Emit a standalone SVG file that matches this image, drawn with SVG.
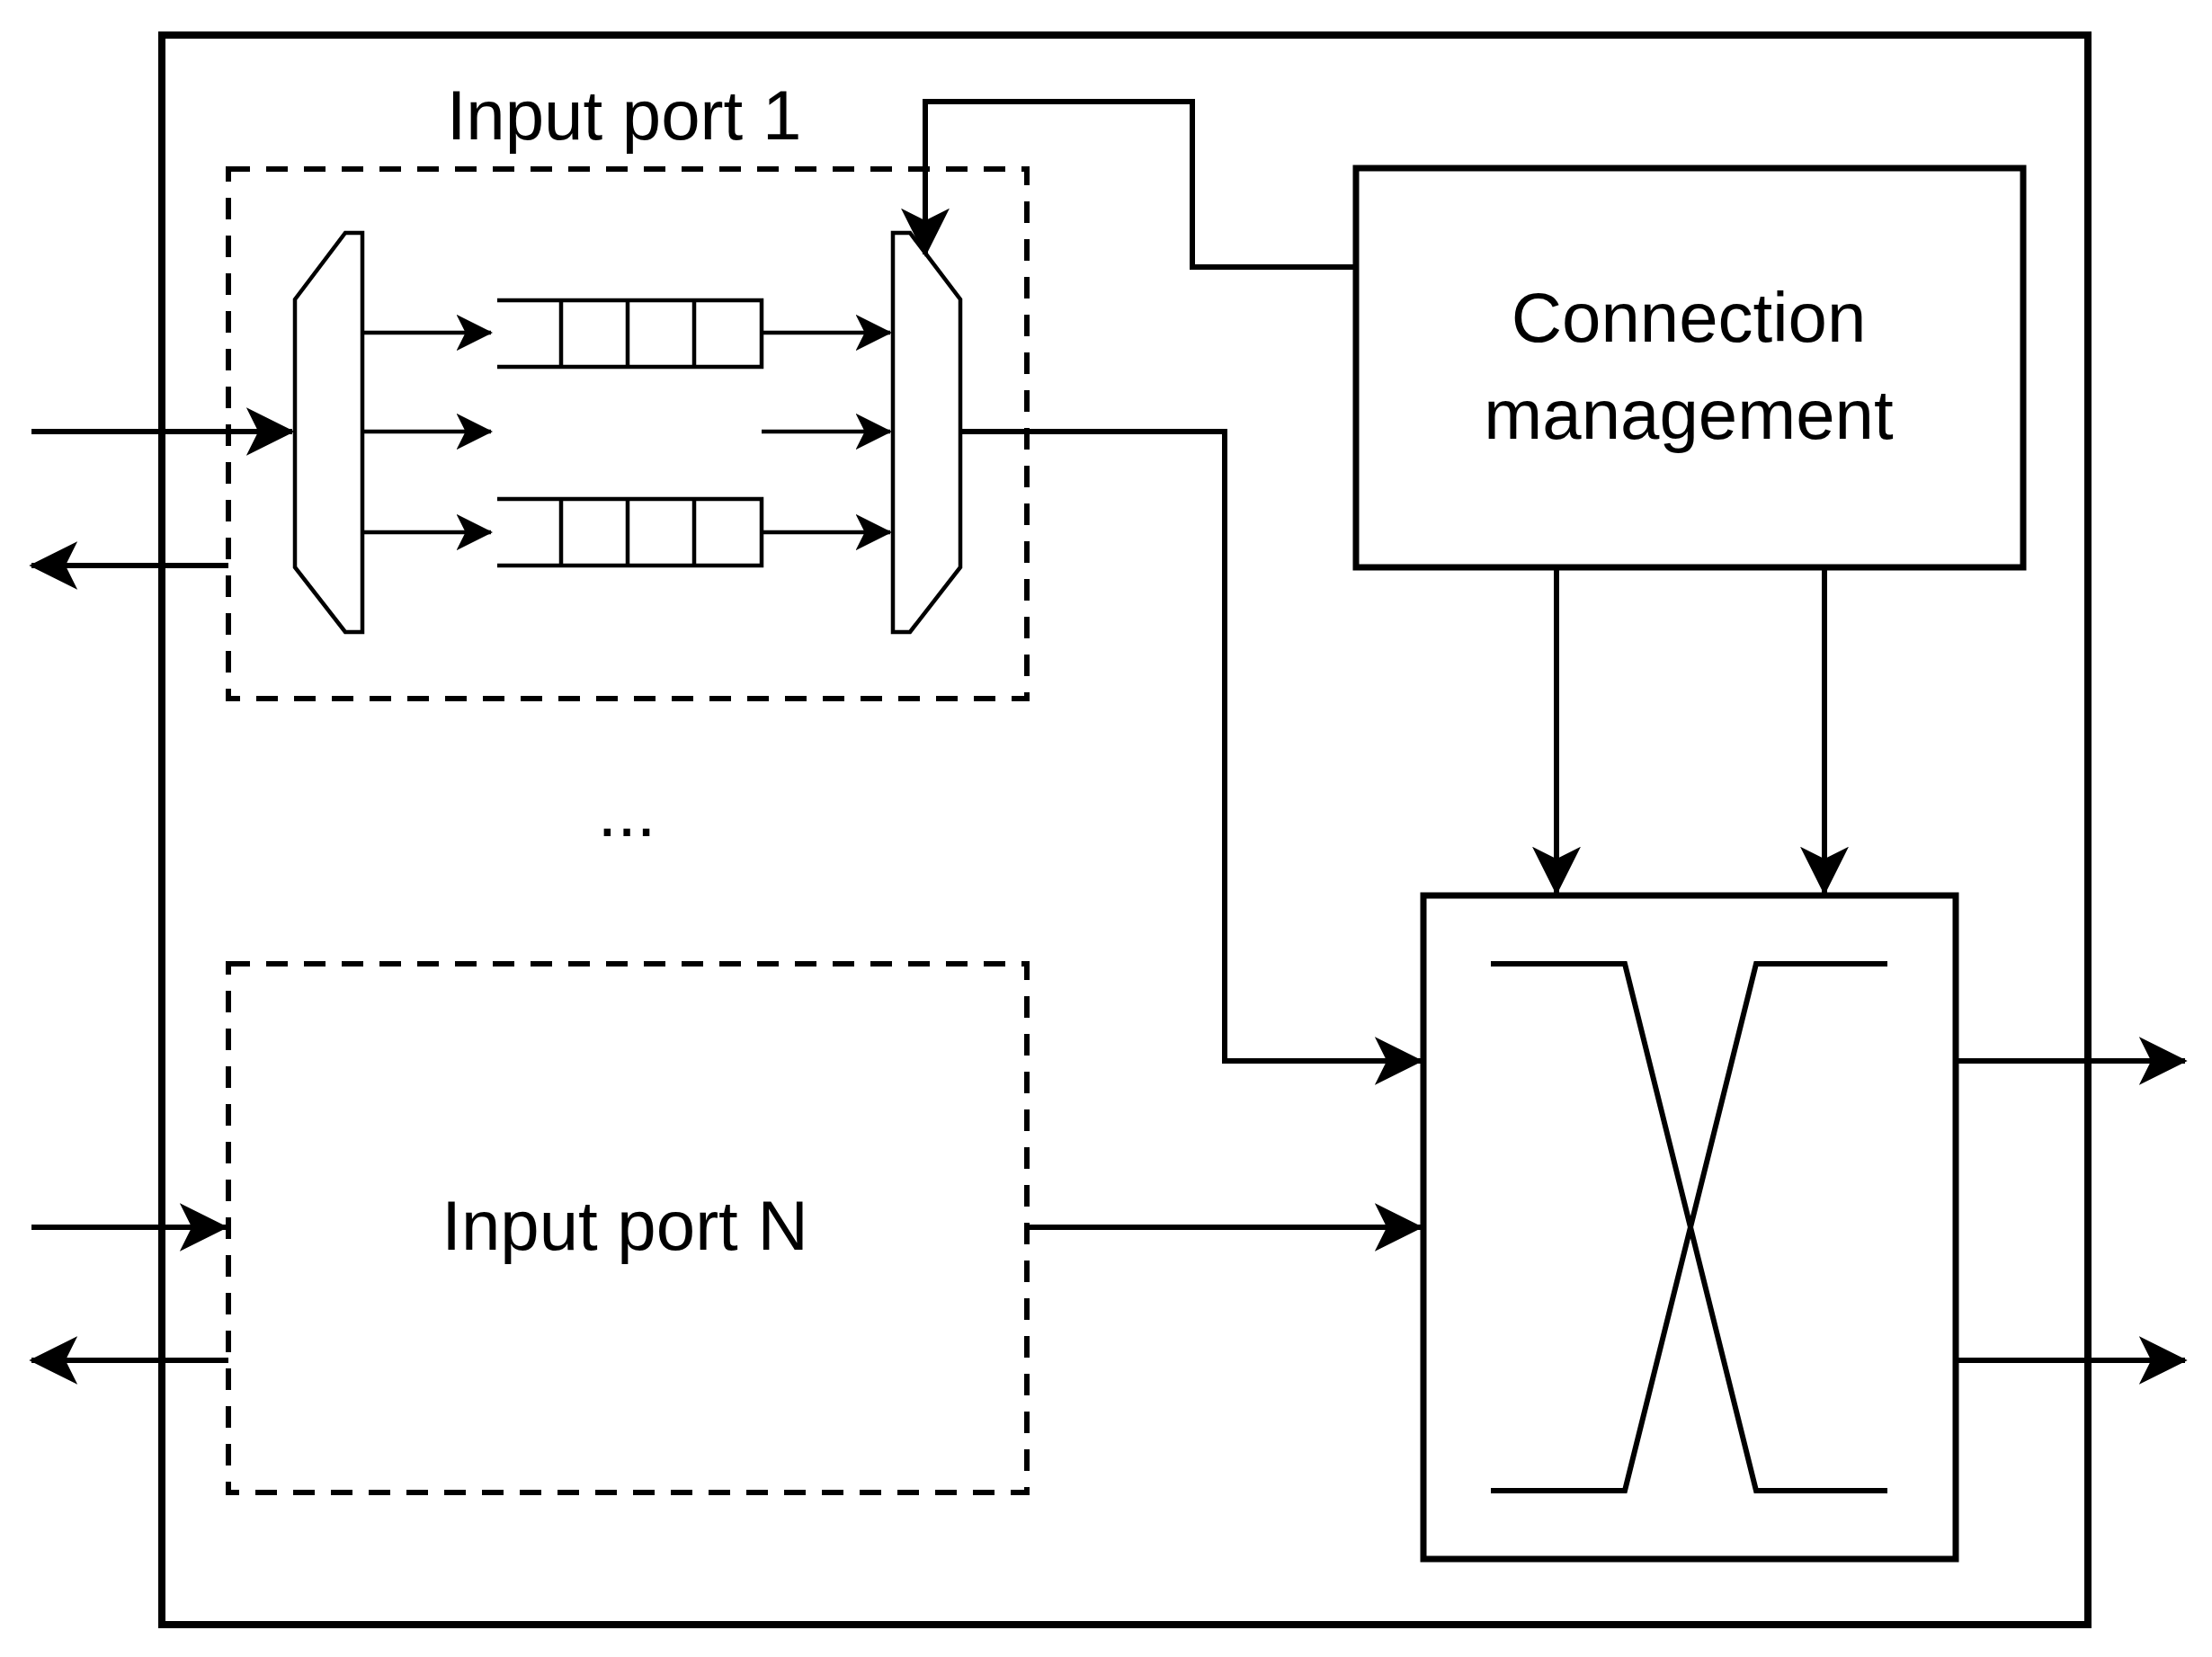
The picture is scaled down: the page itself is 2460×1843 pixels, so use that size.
<svg xmlns="http://www.w3.org/2000/svg" width="2460" height="1843" viewBox="0 0 2460 1843">
<style>
.l{fill:none;stroke:#000;stroke-width:6}
.t{fill:none;stroke:#000;stroke-width:4.5}
.d{fill:none;stroke:#000;stroke-width:6;stroke-dasharray:24 18}
.a{marker-end:url(#ah)}
text{font-family:"Liberation Sans",Arial,sans-serif;fill:#000;text-anchor:middle}
</style>
<defs>
<marker id="ah" viewBox="0 0 20 20" refX="19" refY="10" markerWidth="9" markerHeight="9" markerUnits="strokeWidth" orient="auto">
<path d="M0,0 L20,10 L0,20 L5,10 Z" fill="#000"/>
</marker>
</defs>
<rect width="2460" height="1843" fill="#fff"/>
<g id="frame"><rect x="180" y="39" width="2142" height="1768" fill="none" stroke="#000" stroke-width="8"/></g>
<g id="port1">
<rect class="d" x="254" y="188" width="888" height="589"/>
<text x="694" y="155" font-size="78">Input port 1</text>
<polygon class="t" points="328,333 384,259 403,259 403,703 384,703 328,631" fill="#fff"/>
<polygon class="t" points="993,259 1012,259 1068,333 1068,631 1012,703 993,703" fill="#fff"/>
<path class="t" d="M553,334H847V408H553M624,334V408M698,334V408M772,334V408M847,334V408"/>
<path class="t" d="M553,555H847V629H553M624,555V629M698,555V629M772,555V629M847,555V629"/>
</g>
<g id="portN">
<rect class="d" x="254" y="1072" width="888" height="588"/>
<text x="695" y="1390" font-size="78">Input port N</text>
</g>
<g id="dots"><text x="697" y="930" font-size="78">...</text></g>
<g id="cm">
<rect x="1508" y="187" width="742" height="444" fill="none" stroke="#000" stroke-width="7"/>
<text x="1878" y="380" font-size="78">Connection</text>
<text x="1878" y="488" font-size="78">management</text>
</g>
<g id="crossbar">
<rect x="1583" y="996" width="592" height="738" fill="none" stroke="#000" stroke-width="7"/>
<path class="l" d="M1658,1072H1807L1953,1658H2099M1658,1658H1807L1953,1072H2099"/>
</g>
<g id="connectors">
<path class="t a" d="M403,370H546"/>
<path class="t a" d="M403,480H546"/>
<path class="t a" d="M403,592H546"/>
<path class="t a" d="M847,370H990"/>
<path class="t a" d="M847,480H990"/>
<path class="t a" d="M847,592H990"/>
<path class="l a" d="M35,480H325"/>
<path class="l a" d="M254,629H35"/>
<path class="l a" d="M1068,480H1362V1180H1580"/>
<path class="l a" d="M1508,297H1326V113H1029V283"/>
<path class="l a" d="M1731,631V993"/>
<path class="l a" d="M2029,631V993"/>
<path class="l a" d="M2175,1180H2430"/>
<path class="l a" d="M2175,1513H2430"/>
<path class="l a" d="M35,1365H251"/>
<path class="l a" d="M254,1513H35"/>
<path class="l a" d="M1142,1365H1580"/>
</g>
</svg>
